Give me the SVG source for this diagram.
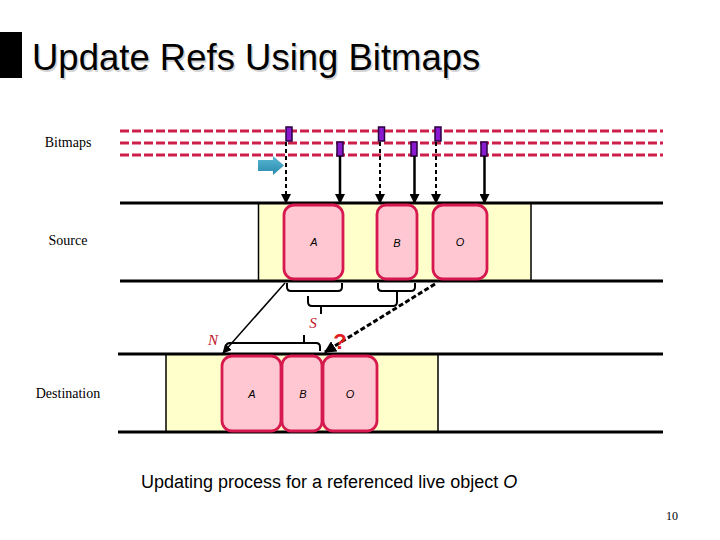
<svg xmlns="http://www.w3.org/2000/svg" width="720" height="540" viewBox="0 0 720 540">
<style>
.lbl{font-family:"Liberation Serif","Times New Roman",serif;font-size:14px;fill:#000}
.obj{fill:#ffc7d1;stroke:#d6194f;stroke-width:2.8}
.objt{font-family:"Liberation Sans",Arial,sans-serif;font-size:11px;font-style:italic;fill:#000;text-anchor:middle}
.band{stroke:#000;stroke-width:3;fill:none}
.edge{stroke:#000;stroke-width:1.5}
.yel{fill:#ffffcc}
.bm{stroke:#cc1f4a;stroke-width:3.2;stroke-dasharray:9 3;fill:none}
.mk{fill:#8a1ad0;stroke:#2a0040;stroke-width:1.5}
.sol{stroke:#000;stroke-width:2.5;fill:none}
.dsh{stroke:#000;stroke-width:2;stroke-dasharray:4 3;fill:none}
.brk{stroke:#000;stroke-width:2;fill:none}
.red{font-family:"Liberation Serif","Times New Roman",serif;font-style:italic;font-size:15px;fill:#c0102a}
</style>
<defs>
<marker id="ah" viewBox="0 0 10 10" refX="9" refY="5" markerWidth="4" markerHeight="4" orient="auto" markerUnits="strokeWidth">
<path d="M0,0 L10,5 L0,10 z" fill="#000"/>
</marker>
<marker id="ah2" viewBox="0 0 10 10" refX="9" refY="5" markerWidth="5" markerHeight="5" orient="auto" markerUnits="strokeWidth">
<path d="M0,0 L10,5 L0,10 z" fill="#000"/>
</marker>
<marker id="ah3" viewBox="0 0 10 10" refX="9" refY="5" markerWidth="6" markerHeight="6" orient="auto" markerUnits="strokeWidth">
<path d="M0,0 L10,5 L0,10 z" fill="#000"/>
</marker>
<linearGradient id="bl" x1="0" y1="0" x2="0" y2="1">
<stop offset="0" stop-color="#5ab8d4"/>
<stop offset="1" stop-color="#2a8aae"/>
</linearGradient>
</defs>
<rect width="720" height="540" fill="#fff"/>

<g id="title">
<rect x="0" y="32" width="22" height="46" fill="#000"/>
<text x="33.5" y="71.5" font-family="Liberation Sans,Arial,sans-serif" font-size="36.5" fill="#d4d4d4">Update Refs Using Bitmaps</text>
<text x="32" y="70" font-family="Liberation Sans,Arial,sans-serif" font-size="36.5" fill="#000">Update Refs Using Bitmaps</text>
</g>

<g id="labels">
<text class="lbl" x="68" y="147" text-anchor="middle">Bitmaps</text>
<text class="lbl" x="68" y="245" text-anchor="middle">Source</text>
<text class="lbl" x="68" y="398" text-anchor="middle">Destination</text>
</g>

<g id="bitmaps">
<line class="bm" x1="120" y1="131" x2="663" y2="131"/>
<line class="bm" x1="120" y1="143" x2="663" y2="143"/>
<line class="bm" x1="120" y1="155" x2="663" y2="155"/>
<rect class="mk" x="286" y="127" width="6" height="14"/>
<rect class="mk" x="378.5" y="127" width="6" height="14"/>
<rect class="mk" x="435" y="127" width="6" height="14"/>
<rect class="mk" x="337" y="142" width="6" height="14"/>
<rect class="mk" x="411" y="142" width="6" height="14"/>
<rect class="mk" x="481" y="142" width="6" height="14"/>
</g>

<g id="pointer">
<path d="M258,160 H273 V156 L284,165.5 L273,175 V171 H258 Z" fill="url(#bl)"/>
</g>

<g id="source">
<rect class="yel" x="258" y="203" width="273" height="78"/>
<line class="edge" x1="258.5" y1="203" x2="258.5" y2="281"/>
<line class="edge" x1="531" y1="203" x2="531" y2="281"/>
<line class="band" x1="120" y1="203" x2="663" y2="203"/>
<line class="band" x1="120" y1="281" x2="663" y2="281"/>
</g>
<g id="srcA"><rect class="obj" x="284" y="205" width="59" height="74" rx="10"/><text class="objt" x="314" y="246">A</text></g>
<g id="srcB"><rect class="obj" x="377" y="205" width="40" height="74" rx="9"/><text class="objt" x="397" y="247">B</text></g>
<g id="srcO"><rect class="obj" x="433" y="205" width="54" height="74" rx="10"/><text class="objt" x="460" y="246">O</text></g>

<g id="destination">
<rect class="yel" x="166" y="354" width="272" height="78"/>
<line class="edge" x1="166" y1="354" x2="166" y2="432"/>
<line class="edge" x1="438" y1="354" x2="438" y2="432"/>
<line class="band" x1="118" y1="354" x2="663" y2="354"/>
<line class="band" x1="118" y1="432" x2="663" y2="432"/>
</g>
<g id="dstA"><rect class="obj" x="222" y="356" width="59" height="75" rx="10"/><text class="objt" x="252" y="398">A</text></g>
<g id="dstB"><rect class="obj" x="282" y="356" width="40" height="75" rx="9"/><text class="objt" x="303" y="398">B</text></g>
<g id="dstO"><rect class="obj" x="323" y="356" width="54" height="75" rx="10"/><text class="objt" x="350" y="398">O</text></g>

<g id="connectors">
<line class="dsh" x1="286" y1="142" x2="286" y2="203" marker-end="url(#ah2)"/>
<line class="dsh" x1="380" y1="142" x2="380" y2="203" marker-end="url(#ah2)"/>
<line class="dsh" x1="436" y1="142" x2="436" y2="203" marker-end="url(#ah2)"/>
<line class="sol" x1="340" y1="156" x2="340" y2="203" marker-end="url(#ah)"/>
<line class="sol" x1="414.5" y1="156" x2="414.5" y2="203" marker-end="url(#ah)"/>
<line class="sol" x1="484.5" y1="156" x2="484.5" y2="203" marker-end="url(#ah)"/>
<line style="stroke:#000;stroke-width:1.5;fill:none" x1="285" y1="283" x2="223" y2="353" marker-end="url(#ah3)"/>
<line style="stroke:#000;stroke-width:3;stroke-dasharray:5 2.5;fill:none" x1="435" y1="284" x2="325" y2="352" marker-end="url(#ah)"/>
</g>

<g id="brackets">
<path class="brk" d="M287,283 V287 Q287,291 291,291 H338 Q342,291 342,287 V283"/>
<path class="brk" d="M378,283 V287 Q378,291 382,291 H411 Q415,291 415,287 V283"/>
<path class="brk" d="M308,296 V302 Q308,306 312,306 H393 Q397,306 397,302 V292 M321,306 V314"/>
<path class="brk" d="M226,351 V347 Q226,343 230,343 H316 Q320,343 320,347 V351 M304,343 V335"/>
</g>

<g id="marks">
<text class="red" x="313" y="328" text-anchor="middle">S</text>
<text class="red" x="213" y="345" text-anchor="middle">N</text>
<text x="340" y="349" text-anchor="middle" font-family="Liberation Sans,Arial,sans-serif" font-weight="bold" font-size="22" fill="#e0201c">?</text>
</g>

<g id="caption">
<text x="141" y="488" font-family="Liberation Sans,Arial,sans-serif" font-size="18" fill="#000">Updating process for a referenced live object  <tspan font-style="italic">O</tspan></text>
<text x="672" y="520" text-anchor="middle" font-family="Liberation Serif,Times New Roman,serif" font-size="12" fill="#000">10</text>
</g>
</svg>
